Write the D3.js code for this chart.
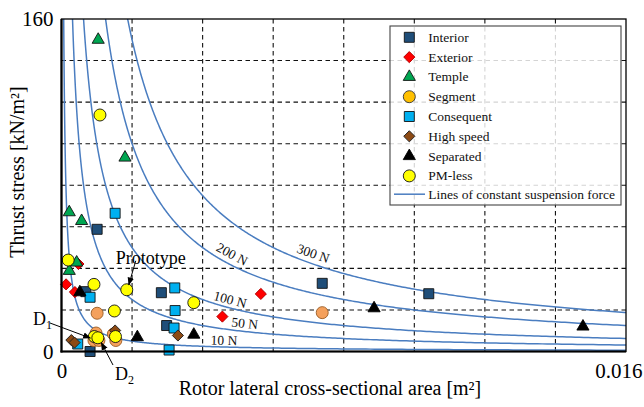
<!DOCTYPE html>
<html>
<head>
<meta charset="utf-8">
<script src="https://cdn.jsdelivr.net/npm/d3@7"></script>
<style>
  html, body { margin: 0; padding: 0; background: #fff; }
  svg { display: block; font-family: "Liberation Serif", "Times New Roman", serif; }
</style>
</head>
<body>
<svg id="chart" width="644" height="407"></svg>
<script>
// Thrust stress vs. rotor lateral cross-sectional area for bearingless motor types,
// with lines of constant suspension force (F = stress × area).

// ---- data: area [m²] and thrust stress [kN/m²] per motor type ----
const interiorArea   = [0.00101, 0.00069, 0.00283, 0.00298, 0.00081, 0.00739, 0.01041];
const interiorStress = [58.8, 28.8, 28.3, 12.5, 0.0, 32.8, 27.8];

const exteriorArea   = [0.00013, 0.00038, 0.00048, 0.00456, 0.00565];
const exteriorStress = [32.3, 28.6, 42.1, 16.8, 27.7];

const templeArea   = [0.00104, 0.00180, 0.00022, 0.00057, 0.00043, 0.00022];
const templeStress = [150.0, 93.3, 67.0, 62.8, 42.8, 38.8];

const segmentArea   = [0.00101, 0.00739, 0.00098, 0.00092, 0.00106, 0.00147, 0.00154];
const segmentStress = [18.4, 18.7, 8.9, 5.3, 5.3, 8.4, 5.3];

const consequentArea   = [0.00152, 0.00081, 0.00321, 0.00322, 0.00319, 0.00305, 0.00046];
const consequentStress = [66.5, 26.1, 30.6, 19.7, 11.3, 0.7, 3.6];

const highSpeedArea   = [0.00028, 0.00037, 0.00152, 0.00330];
const highSpeedStress = [5.5, 4.3, 10.1, 7.7];

const separatedArea   = [0.00052, 0.00215, 0.00375, 0.00886, 0.01478];
const separatedStress = [28.5, 6.9, 8.1, 20.8, 12.0];

const pmLessArea   = [0.00109, 0.00019, 0.00092, 0.00185, 0.00150, 0.00375, 0.00093, 0.00103, 0.00153];
const pmLessStress = [113.8, 44.0, 32.3, 29.7, 19.5, 23.5, 7.2, 6.6, 7.2];

// constant suspension force lines [N]
const forceLines = [10, 50, 100, 200, 300];
const forceLabels = ["10 N", "50 N", "100 N", "200 N", "300 N"];

// axis ticks
const xTicks = [0, 0.016];
const yTicks = [0, 160];

// ---- series table ----
const series = [
  { name: "Interior",   area: interiorArea,   stress: interiorStress,   shape: "square",   fill: "#1f4e79", stroke: "#111" },
  { name: "Exterior",   area: exteriorArea,   stress: exteriorStress,   shape: "diamond",  fill: "#ff0000", stroke: "#b00000" },
  { name: "Temple",     area: templeArea,     stress: templeStress,     shape: "triangle", fill: "#00a651", stroke: "#111" },
  { name: "Segment",    area: segmentArea,    stress: segmentStress,    shape: "circle",   fill: "#f4a05c", stroke: "#9a5a20", legendFill: "#ffc000", legendStroke: "#333" },
  { name: "Consequent", area: consequentArea, stress: consequentStress, shape: "square",   fill: "#00b0f0", stroke: "#111" },
  { name: "High speed", area: highSpeedArea,  stress: highSpeedStress,  shape: "diamond",  fill: "#8c4a14", stroke: "#222" },
  { name: "Separated",  area: separatedArea,  stress: separatedStress,  shape: "triangle", fill: "#000000", stroke: "#000" },
  { name: "PM-less",    area: pmLessArea,     stress: pmLessStress,     shape: "circle",   fill: "#ffff00", stroke: "#111" }
];

// ---- layout ----
const svg = d3.select("#chart");
const plot = { left: 61.5, right: 626, top: 19, bottom: 351.5 };

const x = d3.scaleLinear().domain([0, 0.016]).range([plot.left, plot.right]);
const y = d3.scaleLinear().domain([0, 160]).range([plot.bottom, plot.top]);

const curveColor = "#4a7dc0";

svg.append("defs").append("clipPath").attr("id", "plot-clip")
  .append("rect")
  .attr("x", plot.left).attr("y", plot.top)
  .attr("width", plot.right - plot.left).attr("height", plot.bottom - plot.top);

// arrow head marker
svg.select("defs").append("marker")
  .attr("id", "arrow")
  .attr("viewBox", "0 0 10 10")
  .attr("refX", 9).attr("refY", 5)
  .attr("markerWidth", 8).attr("markerHeight", 8)
  .attr("markerUnits", "userSpaceOnUse")
  .attr("orient", "auto")
  .append("path").attr("d", "M0,1 L10,5 L0,9 Z").attr("fill", "#000");

// ---- grid ----
const grid = svg.append("g").attr("class", "grid")
  .attr("stroke", "#111").attr("stroke-width", 1.1).attr("stroke-dasharray", "4.5,3.5");

grid.selectAll("line.v").data(d3.range(1, 8).map(i => i * 0.002))
  .join("line").attr("class", "v")
  .attr("x1", d => x(d)).attr("x2", d => x(d))
  .attr("y1", plot.top).attr("y2", plot.bottom);

grid.selectAll("line.h").data(d3.range(1, 8).map(i => i * 20))
  .join("line").attr("class", "h")
  .attr("x1", plot.left).attr("x2", plot.right)
  .attr("y1", d => y(d)).attr("y2", d => y(d));

// ---- constant force curves: stress [kN/m²] = F[N] / 1000 / area[m²] ----
const curves = svg.append("g").attr("clip-path", "url(#plot-clip)");
const line = d3.line().x(d => x(d[0])).y(d => y(d[1]));

forceLines.forEach(F => {
  const aMin = F / 1000 / 170;
  const pts = d3.range(0, 401).map(i => {
    const a = aMin * Math.pow(0.0165 / aMin, i / 400);
    return [a, F / 1000 / a];
  });
  curves.append("path")
    .attr("d", line(pts))
    .attr("fill", "none")
    .attr("stroke", curveColor)
    .attr("stroke-width", 1.5);
});

// curve labels placed along each curve, rotated to its tangent
const labelAt = [0.0046, 0.00517, 0.00472, 0.0047, 0.00704];
const labelLift = [6.5, 8, 8, 10, 10];
forceLines.forEach((F, i) => {
  const a = labelAt[i];
  const s = F / 1000 / a;
  const px = x(a), py = y(s);
  const dsda = -F / 1000 / (a * a);
  const slope = (y(s + dsda * 1e-5) - py) / (x(a + 1e-5) - px);
  const ang = Math.atan(slope) * 180 / Math.PI;
  const nx = Math.sin(ang * Math.PI / 180), ny = -Math.cos(ang * Math.PI / 180);
  svg.append("text")
    .attr("transform", `translate(${px + nx * labelLift[i]},${py + ny * labelLift[i]}) rotate(${ang})`)
    .attr("text-anchor", "middle")
    .attr("dominant-baseline", "central")
    .attr("font-size", 13.5)
    .attr("fill", "#111")
    .text(forceLabels[i]);
});

// ---- markers ----
const symbolFor = {
  square: d3.symbol(d3.symbolSquare, 100),
  diamond: d3.symbol(d3.symbolSquare, 62),
  triangle: d3.symbol(d3.symbolTriangle, 64),
  circle: d3.symbol(d3.symbolCircle, 113)
};
const rotFor = { square: 0, diamond: 45, triangle: 0, circle: 0 };

const marks = svg.append("g");
series.forEach(s => {
  const pts = s.area.map((a, i) => [a, s.stress[i]]);
  marks.append("g").selectAll("path").data(pts).join("path")
    .attr("d", symbolFor[s.shape]())
    .attr("transform", d => `translate(${x(d[0])},${y(d[1])}) rotate(${rotFor[s.shape]})`)
    .attr("fill", s.fill)
    .attr("stroke", s.stroke)
    .attr("stroke-width", 0.9);
});

// ---- frame / axes ----
svg.append("rect")
  .attr("x", plot.left).attr("y", plot.top)
  .attr("width", plot.right - plot.left).attr("height", plot.bottom - plot.top)
  .attr("fill", "none").attr("stroke", "#000").attr("stroke-width", 1.3);
svg.append("line").attr("x1", plot.left).attr("x2", plot.left)
  .attr("y1", plot.top).attr("y2", plot.bottom + 1)
  .attr("stroke", "#000").attr("stroke-width", 2.2);
svg.append("line").attr("x1", plot.left - 1).attr("x2", plot.right)
  .attr("y1", plot.bottom).attr("y2", plot.bottom)
  .attr("stroke", "#000").attr("stroke-width", 2.2);

const xAxis = svg.append("g")
  .attr("transform", `translate(0,${plot.bottom})`)
  .call(d3.axisBottom(x).tickValues(xTicks).tickSize(0).tickPadding(12)
    .tickFormat(d => d === 0 ? "0" : d3.format(".3f")(d)));
xAxis.select(".domain").remove();
xAxis.selectAll("text")
  .attr("font-family", "Liberation Serif, serif").attr("font-size", 21).attr("fill", "#000");
xAxis.selectAll(".tick").filter(d => d === 0.016).select("text")
  .attr("text-anchor", "end").attr("dx", 16);

const yAxis = svg.append("g")
  .attr("transform", `translate(${plot.left},0)`)
  .call(d3.axisLeft(y).tickValues(yTicks).tickSize(0).tickPadding(8));
yAxis.select(".domain").remove();
yAxis.selectAll("text")
  .attr("font-family", "Liberation Serif, serif").attr("font-size", 21).attr("fill", "#000");

// axis titles
svg.append("text")
  .attr("x", 330).attr("y", 395)
  .attr("text-anchor", "middle").attr("font-size", 20)
  .text("Rotor lateral cross-sectional area [m²]");

svg.append("text")
  .attr("transform", "translate(24,172) rotate(-90)")
  .attr("text-anchor", "middle").attr("font-size", 20)
  .text("Thrust stress [kN/m²]");

// ---- annotations ----
const proto = [pmLessArea[3], pmLessStress[3]];
const d1 = [pmLessArea[6], pmLessStress[6]];
const d2 = [pmLessArea[7], pmLessStress[7]];

function arrow(x1, y1, x2, y2) {
  svg.append("line")
    .attr("x1", x1).attr("y1", y1).attr("x2", x2).attr("y2", y2)
    .attr("stroke", "#000").attr("stroke-width", 1)
    .attr("marker-end", "url(#arrow)");
}

// Prototype
svg.append("text")
  .attr("x", x(proto[0]) + 24).attr("y", y(proto[1]) - 32)
  .attr("text-anchor", "middle").attr("dominant-baseline", "central")
  .attr("font-size", 18).text("Prototype");
arrow(x(proto[0]) + 9, y(proto[1]) - 29, x(proto[0]) + 2, y(proto[1]) - 5);

// D1
const d1Label = svg.append("text").attr("x", 33).attr("y", 325).attr("font-size", 18);
d1Label.append("tspan").text("D");
d1Label.append("tspan").attr("font-size", 12).attr("dy", 4).text("1");
arrow(50, 323, x(d1[0]) - 4, y(d1[1]) + 1.5);

// D2
const d2Label = svg.append("text").attr("x", 115).attr("y", 380).attr("font-size", 18);
d2Label.append("tspan").text("D");
d2Label.append("tspan").attr("font-size", 12).attr("dy", 4).text("2");
arrow(113, 365, x(d2[0]) + 3.5, y(d2[1]) + 5);

// ---- legend ----
const legend = svg.append("g").attr("transform", "translate(390,26)");
legend.append("rect")
  .attr("width", 231).attr("height", 179)
  .attr("fill", "#fff").attr("fill-opacity", 0.82)
  .attr("stroke", "#444").attr("stroke-width", 1.1);

series.forEach((s, i) => {
  const ly = 11.3 + i * 19.8;
  legend.append("path")
    .attr("d", symbolFor[s.shape]())
    .attr("transform", `translate(19.3,${ly}) rotate(${rotFor[s.shape]})`)
    .attr("fill", s.legendFill || s.fill)
    .attr("stroke", s.legendStroke || s.stroke)
    .attr("stroke-width", 0.9);
  legend.append("text")
    .attr("x", 38.3).attr("y", ly).attr("dy", "0.33em")
    .attr("font-size", 13.5).attr("fill", "#111")
    .text(s.name);
});
const lineY = 11.3 + 8 * 19.8 - 1.5;
legend.append("line")
  .attr("x1", 4).attr("x2", 35).attr("y1", lineY).attr("y2", lineY)
  .attr("stroke", curveColor).attr("stroke-width", 1.5);
legend.append("text")
  .attr("x", 38.3).attr("y", lineY).attr("dy", "0.33em")
  .attr("font-size", 13.5).attr("fill", "#111")
  .text("Lines of constant suspension force");
</script>
</body>
</html>
